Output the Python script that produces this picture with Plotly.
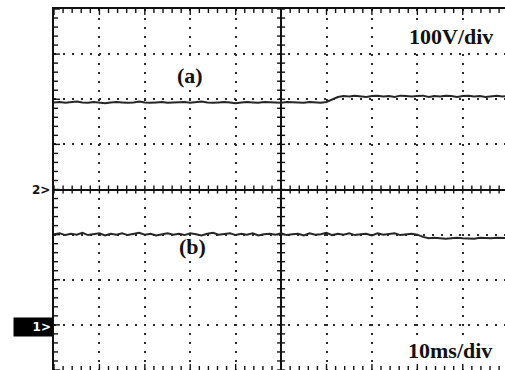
import numpy as np
import plotly.graph_objects as go

# Oscilloscope graticule: 10 horizontal x 8 vertical divisions, centre at (0, 0)
X_MIN, X_MAX = -5.0, 4.93
Y_MIN, Y_MAX = -4.0, 4.0

# Sample times (divisions) for the two captured channels
t = np.arange(81) * 0.125 - 5.0

# Channel (a): voltage trace in divisions (100 V/div)
trace_a = [1.93, 1.94, 1.92, 1.93, 1.95, 1.93, 1.92, 1.94, 1.93, 1.91,
           1.93, 1.94, 1.93, 1.92, 1.93, 1.95, 1.93, 1.92, 1.93, 1.94,
           1.92, 1.93, 1.93, 1.94, 1.92, 1.93, 1.95, 1.93, 1.92, 1.93,
           1.94, 1.93, 1.91, 1.93, 1.94, 1.93, 1.92, 1.94, 1.93, 1.93,
           1.92, 1.94, 1.93, 1.93, 1.92, 1.94, 1.93, 1.92, 1.94, 1.99,
           2.05, 2.07, 2.06, 2.08, 2.07, 2.05, 2.07, 2.08, 2.06, 2.07,
           2.05, 2.08, 2.07, 2.06, 2.07, 2.08, 2.05, 2.07, 2.06, 2.08,
           2.07, 2.05, 2.07, 2.08, 2.06, 2.07, 2.05, 2.07, 2.08, 2.06, 2.07]

# Channel (b): trace in divisions
trace_b = [-0.99, -0.97, -1.01, -0.98, -1.00, -0.96, -1.01, -0.99, -0.97, -1.02,
           -0.98, -1.00, -0.97, -1.01, -0.99, -0.96, -1.00, -0.98, -1.02, -0.99,
           -0.97, -1.00, -0.98, -1.01, -0.97, -0.99, -1.02, -0.98, -0.96, -1.00,
           -0.99, -0.97, -1.01, -0.98, -1.00, -0.97, -1.02, -0.99, -0.98, -1.00,
           -0.97, -1.01, -0.99, -0.98, -1.02, -0.97, -1.00, -0.99, -0.96, -1.01,
           -0.98, -1.00, -0.97, -1.01, -0.99, -0.98, -1.02, -0.97, -1.00, -0.98,
           -0.97, -1.01, -0.99, -0.98, -1.00, -1.05, -1.08, -1.07, -1.08, -1.09,
           -1.08, -1.07, -1.08, -1.08, -1.09, -1.07, -1.08, -1.08, -1.07, -1.08, -1.08]

# Text shown on the screen
trace_labels = ["(a)", "(b)"]
volts_label = "100V/div"
time_label = "10ms/div"
channel_markers = ["2>", "1>"]

W, H = 505, 370
ML, MR, MT, MB = 54, 0, 9, 0
px_x = (W - ML - MR) / (X_MAX - X_MIN)   # pixels per horizontal division
px_y = (H - MT - MB) / (Y_MAX - Y_MIN)   # pixels per vertical division

# Graticule tick marks (every 1/5 division) on the border and centre lines
tx, ty = [], []


def seg(x0, y0, x1, y1):
    tx.extend([x0, x1, None])
    ty.extend([y0, y1, None])


minor_x = np.round(np.arange(-5.0, 5.01, 0.2), 3)
minor_y = np.round(np.arange(-4.0, 4.01, 0.2), 3)
for xv in minor_x:
    major = abs(xv - round(xv)) < 1e-6
    L = (6 if major else 4)
    seg(xv, Y_MAX, xv, Y_MAX - L / px_y)            # top border
    seg(xv, Y_MIN, xv, Y_MIN + L / px_y)            # bottom border
    seg(xv, -4 / px_y, xv, 4 / px_y)                # centre horizontal
for yv in minor_y:
    major = abs(yv - round(yv)) < 1e-6
    L = (6 if major else 4)
    seg(X_MIN, yv, X_MIN + L / px_x, yv)            # left border
    seg(-4 / px_x, yv, 4 / px_x, yv)                # centre vertical

fig = go.Figure()
fig.add_trace(go.Scatter(x=tx, y=ty, mode="lines",
                         line=dict(color="#111111", width=1.4),
                         hoverinfo="skip", showlegend=False))
fig.add_trace(go.Scatter(x=t, y=trace_a, mode="lines",
                         line=dict(color="#262626", width=2),
                         hoverinfo="skip", showlegend=False))
fig.add_trace(go.Scatter(x=t, y=trace_b, mode="lines",
                         line=dict(color="#262626", width=2),
                         hoverinfo="skip", showlegend=False))

label_font = dict(family="Liberation Serif", size=22, color="#111111")
ann = [
    dict(x=-2.0, y=2.52, text=f"<b>{trace_labels[0]}</b>", bgcolor="white"),
    dict(x=-1.95, y=-1.27, text=f"<b>{trace_labels[1]}</b>"),
    dict(x=3.74, y=3.38, text=f"<b>{volts_label}</b>", bgcolor="white"),
    dict(x=3.72, y=-3.56, text=f"<b>{time_label}</b>", bgcolor="white"),
]
for a in ann:
    a.update(xref="x", yref="y", showarrow=False, font=label_font,
             xanchor="center", yanchor="middle", borderpad=0)

marker_font = dict(family="DejaVu Sans", size=12, color="#111111")
ann.append(dict(xref="paper", yref="y", x=0, y=0, xanchor="right",
                yanchor="middle", xshift=-2, showarrow=False,
                text=f"<b>{channel_markers[0]}</b>", font=marker_font))
ann.append(dict(xref="paper", yref="y", x=0, y=-3, xanchor="right",
                yanchor="middle", xshift=-1, yshift=-2, showarrow=False,
                text=f"<b>{channel_markers[1]}</b>",
                font=dict(family="DejaVu Sans", size=12, color="white"),
                bgcolor="black", width=36, height=16, align="right",
                borderpad=1))

axis_common = dict(showticklabels=False, ticks="", showgrid=True, dtick=1,
                   tick0=0, gridcolor="#2a2a2a", griddash="2px,7px",
                   gridwidth=2, zeroline=True, zerolinecolor="#111111",
                   zerolinewidth=1.6, showline=True, linecolor="#111111",
                   linewidth=2)

fig.update_layout(
    width=W, height=H,
    margin=dict(l=ML, r=MR, t=MT, b=MB, pad=0),
    paper_bgcolor="white", plot_bgcolor="white",
    xaxis=dict(range=[X_MIN, X_MAX], mirror=True, **axis_common),
    yaxis=dict(range=[Y_MIN, Y_MAX], mirror=False, **axis_common),
    annotations=ann,
)

fig.write_html("out.html")
